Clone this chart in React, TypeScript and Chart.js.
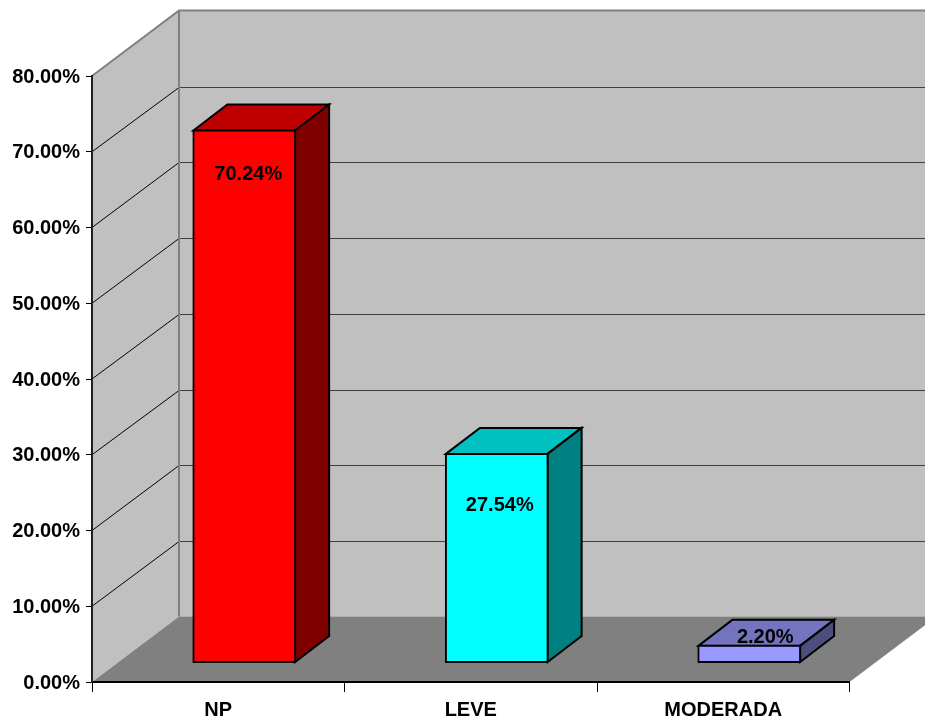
import React, { useEffect, useRef } from "react";
import { Chart, registerables } from "chart.js";

Chart.register(...registerables);

const categories = ["NP", "LEVE", "MODERADA"];
const shares = [70.24, 27.54, 2.2];
const frontColors = ["#ff0000", "#00ffff", "#9999ff"];
const topColors = ["#bf0000", "#00c0c0", "#7373bf"];
const sideColors = ["#800000", "#008080", "#4d4d80"];

const FONT = { family: "'Liberation Sans', Arial, sans-serif", size: 20, weight: "bold" as const };

// Perspective of the room and of the columns standing in it.
const ROOM_DX = 87;
const ROOM_DY = -65.5;
const BAR_SHIFT_X = 26;
const BAR_SHIFT_Y = -19.5;
const BAR_DX = 34;
const BAR_DY = -26;
// Hand placement of the value captions relative to each column's top centre.
const CAPTION_NUDGE: [number, number][] = [
  [4, 44.5],
  [3, 52],
  [16, -8],
];

const poly = (ctx: CanvasRenderingContext2D, pts: number[][], fill?: string, stroke?: string, w = 1) => {
  ctx.beginPath();
  pts.forEach(([x, y], i) => (i ? ctx.lineTo(x, y) : ctx.moveTo(x, y)));
  if (fill) {
    ctx.closePath();
    ctx.fillStyle = fill;
    ctx.fill();
  }
  if (stroke) {
    ctx.strokeStyle = stroke;
    ctx.lineWidth = w;
    ctx.stroke();
  }
};

const roomPlugin = {
  id: "room",
  beforeDraw(chart: any) {
    const { ctx, scales, width } = chart;
    const y = scales.y;
    const x = scales.x;
    const l = x.left;
    const r = x.right;
    const b = y.getPixelForValue(0);
    const t = y.getPixelForValue(80);
    const backX = l + ROOM_DX;
    const backTop = t + ROOM_DY;
    const backBottom = b + ROOM_DY;
    ctx.save();
    ctx.fillStyle = "#ffffff";
    ctx.fillRect(0, 0, chart.width, chart.height);
    poly(ctx, [[backX, backTop], [width, backTop], [width, backBottom], [backX, backBottom]], "#c0c0c0");
    poly(ctx, [[l, b], [l, t], [backX, backTop], [backX, backBottom]], "#c0c0c0");
    poly(ctx, [[l, b], [r, b], [r + ROOM_DX, backBottom], [backX, backBottom]], "#808080");
    y.ticks.forEach((tick: any) => {
      if (tick.value === 0 || tick.value === 80) return;
      const py = y.getPixelForValue(tick.value);
      const by = py + ROOM_DY;
      const row = Math.floor(by + 0.75) + 0.5;
      poly(ctx, [[l, py], [backX, row]], undefined, "#000000", 1);
      poly(ctx, [[backX, row], [width, row]], undefined, "#404040", 1);
    });
    poly(ctx, [[l, t], [backX, backTop], [width, backTop]], undefined, "#808080", 2);
    poly(ctx, [[backX, backTop], [backX, backBottom]], undefined, "#808080", 2);
    ctx.restore();
  },
  beforeDatasetDraw(chart: any, args: any) {
    const { ctx } = chart;
    const meta = args.meta;
    ctx.save();
    ctx.translate(BAR_SHIFT_X, BAR_SHIFT_Y);
    ctx.lineJoin = "miter";
    meta.data.forEach((bar: any, i: number) => {
      const left = bar.x - bar.width / 2;
      const right = bar.x + bar.width / 2;
      const top = bar.y;
      const bottom = bar.base;
      const topFace = [[left, top], [left + BAR_DX, top + BAR_DY], [right + BAR_DX, top + BAR_DY], [right, top]];
      const sideFace = [[right, top], [right + BAR_DX, top + BAR_DY], [right + BAR_DX, bottom + BAR_DY], [right, bottom]];
      poly(ctx, topFace, topColors[i], "#000000", 2);
      poly(ctx, sideFace, sideColors[i], "#000000", 2);
    });
  },
  afterDatasetDraw(chart: any, args: any) {
    const { ctx } = chart;
    ctx.restore();
    ctx.save();
    ctx.fillStyle = "#000000";
    ctx.font = `${FONT.weight} ${FONT.size}px ${FONT.family}`;
    ctx.textAlign = "center";
    ctx.textBaseline = "middle";
    args.meta.data.forEach((bar: any, i: number) => {
      const [nx, ny] = CAPTION_NUDGE[i];
      ctx.fillText(
        `${shares[i].toFixed(2)}%`,
        bar.x + BAR_SHIFT_X + nx,
        bar.y + BAR_SHIFT_Y + ny,
      );
    });
    ctx.restore();
  },
};

export default function App() {
  const ref = useRef<HTMLCanvasElement>(null);

  useEffect(() => {
    const chart = new Chart(ref.current as HTMLCanvasElement, {
      type: "bar",
      data: {
        labels: categories,
        datasets: [
          {
            data: shares,
            backgroundColor: frontColors,
            borderColor: "#000000",
            borderWidth: 2,
            borderSkipped: false,
            inflateAmount: 1,
            barPercentage: 0.403,
            categoryPercentage: 1,
            clip: false,
          } as any,
        ],
      },
      options: {
        responsive: false,
        animation: false,
        layout: { padding: { left: 0, top: 76, right: 75.5, bottom: 0 } },
        plugins: { legend: { display: false }, tooltip: { enabled: false } },
        scales: {
          x: {
            afterFit: (s: any) => {
              s.height = 37;
            },
            border: { display: true, color: "#000000", width: 2 },
            grid: { drawOnChartArea: false, tickLength: 10, tickColor: "#000000", tickWidth: 1 },
            ticks: { color: "#000000", font: FONT, padding: 6, maxRotation: 0 },
          },
          y: {
            min: 0,
            max: 80,
            afterFit: (s: any) => {
              s.width = 92;
            },
            border: { display: true, color: "#202020", width: 2 },
            grid: { drawOnChartArea: false, tickLength: 6, tickColor: "#000000", tickWidth: 1 },
            ticks: {
              stepSize: 10,
              color: "#000000",
              font: FONT,
              padding: 6,
              labelOffset: 1,
              callback: (v: any) => `${Number(v).toFixed(2)}%`,
            },
          },
        },
      },
      plugins: [roomPlugin],
    });
    return () => chart.destroy();
  }, []);

  return (
    <canvas
      ref={ref}
      width={925}
      height={719}
      style={{ position: "fixed", left: 0, top: 0, width: 925, height: 719, display: "block" }}
    />
  );
}
